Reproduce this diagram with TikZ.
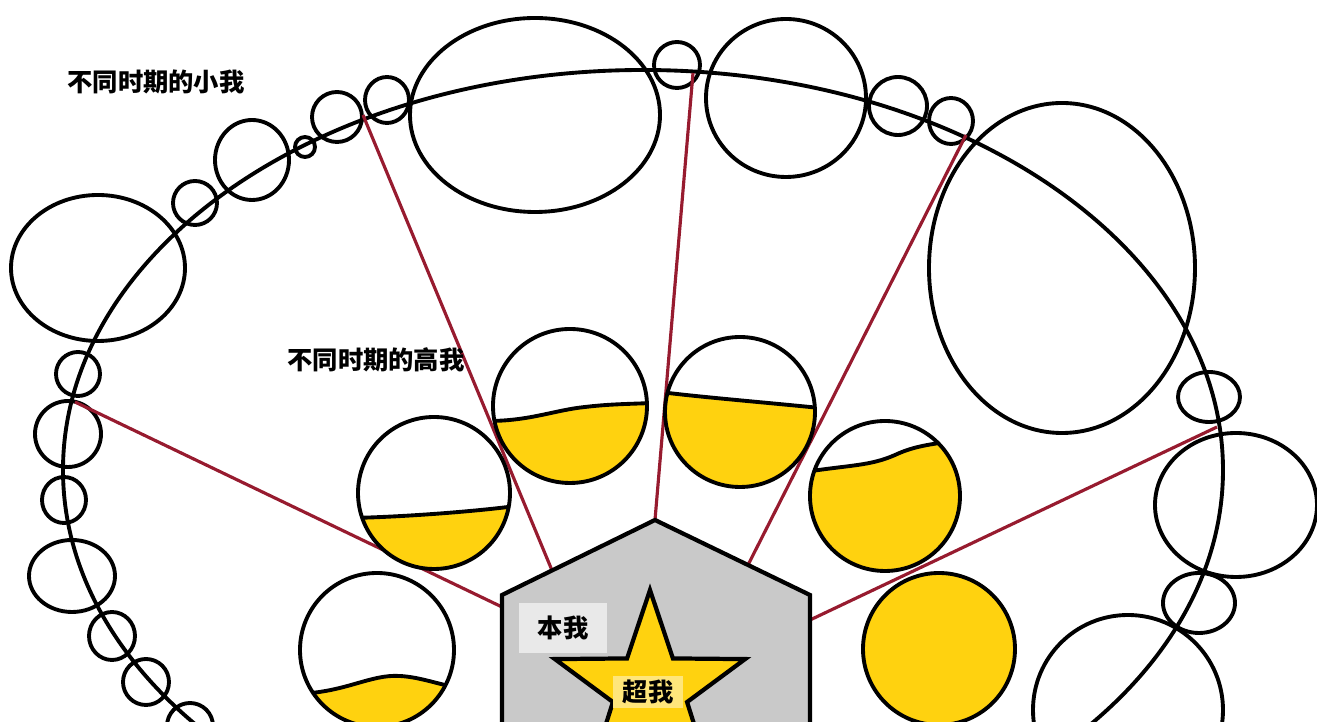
\documentclass[tikz,border=0pt]{standalone}
\usepackage{fontspec}
\newfontfamily\cjk{Noto Sans CJK SC}
\usetikzlibrary{calc}
\definecolor{goldfill}{HTML}{FFD20F}
\definecolor{linkred}{HTML}{971B2F}
\definecolor{housegray}{HTML}{C9C9C9}
\definecolor{tagwhite}{HTML}{E9E9E9}
\tikzset{
  ring/.style={draw=black, line width=1.1pt},
  link/.style={draw=linkred, line width=0.9pt},
  liquid/.style={fill=goldfill},
  surface/.style={draw=black, line width=1.1pt},
  house/.style={draw=black, line width=1.2pt, line join=miter},
  superstar/.style={draw=black, line width=1.2pt, fill=goldfill, line join=miter},
  tag/.style={font=\cjk\bfseries\fontsize{7.2pt}{8pt}\selectfont, inner sep=0pt}
}
\begin{document}
\begin{tikzpicture}[x=0.01cm, y=-0.01cm]
  \useasboundingbox (0,0) rectangle (1317,722);
  \clip (0,0) rectangle (1317,722);

  % outer path of the lives
  \draw[ring] (643,470) ellipse [x radius=580, y radius=400];

  % small selves along the path
  \foreach \cx/\cy/\rx/\ry in {387/100/22/23, 337/117/25/25, 305/147/10/10, 252/160/37/40,
      195/203/22/22, 98/268/87/73, 78/374/22/22, 68/434/33/33, 64/500/22/23, 72/576/43/36,
      112/636/23/24, 146/682/23/23, 190/726/23/23, 535/115/125/97, 677/65/23/23,
      786/98/80/79, 898/106/29/29, 951/121/22/23, 1062/268/133/165, 1209/397/31/25,
      1236/505/81/72, 1199/603/36/30, 1128/710/95/95} {
    \draw[ring] (\cx,\cy) ellipse [x radius=\rx, y radius=\ry];
  }

  % house corners
  \coordinate (hbl) at (502,740);
  \coordinate (hl) at (502,595);
  \coordinate (ht) at (655,520);
  \coordinate (hr) at (810,595);
  \coordinate (hbr) at (810,740);

  % ends of the links
  \coordinate (e1) at (75,402);
  \coordinate (e2) at (363,115);
  \coordinate (e3) at (693,73);
  \coordinate (e4) at (966,135);
  \coordinate (e5) at (1217,427);
  \coordinate (h1) at (502,607);
  \coordinate (h2) at ($(hl)!0.327!(ht)$);
  \coordinate (h4) at ($(ht)!0.6!(hr)$);
  \coordinate (h5) at (810,620);

  \draw[link] (e1) -- (h1);
  \draw[link] (e2) -- (h2);
  \draw[link] (e3) -- (ht);
  \draw[link] (e4) -- (h4);
  \draw[link] (e5) -- (h5);

  % higher selves
  \fill[white] (377,650) circle [radius=77];
  \begin{scope}
    \clip (377,650) circle [radius=77];
    \fill[liquid] (295,694) .. controls (345,693) and (370,674) .. (400,676) .. controls (420,677) and (440,685) .. (460,688) |- (295,740) -- cycle;
    \draw[surface] (295,694) .. controls (345,693) and (370,674) .. (400,676) .. controls (420,677) and (440,685) .. (460,688);
  \end{scope}
  \draw[ring] (377,650) circle [radius=77];

  \fill[white] (434,493) circle [radius=76];
  \begin{scope}
    \clip (434,493) circle [radius=76];
    \fill[liquid] (352,518) .. controls (400,517) and (470,512) .. (516,506) |- (352,580) -- cycle;
    \draw[surface] (352,518) .. controls (400,517) and (470,512) .. (516,506);
  \end{scope}
  \draw[ring] (434,493) circle [radius=76];

  \fill[white] (570,406) circle [radius=77];
  \begin{scope}
    \clip (570,406) circle [radius=77];
    \fill[liquid] (488,421) .. controls (530,421) and (555,410) .. (585,407) .. controls (610,404) and (630,404) .. (652,403) |- (488,490) -- cycle;
    \draw[surface] (488,421) .. controls (530,421) and (555,410) .. (585,407) .. controls (610,404) and (630,404) .. (652,403);
  \end{scope}
  \draw[ring] (570,406) circle [radius=77];

  \fill[white] (740,412) circle [radius=75];
  \begin{scope}
    \clip (740,412) circle [radius=75];
    \fill[liquid] (660,392) .. controls (700,397) and (760,402) .. (820,408) |- (660,495) -- cycle;
    \draw[surface] (660,392) .. controls (700,397) and (760,402) .. (820,408);
  \end{scope}
  \draw[ring] (740,412) circle [radius=75];

  \fill[white] (885,496) circle [radius=75];
  \begin{scope}
    \clip (885,496) circle [radius=75];
    \fill[liquid] (805,472) .. controls (850,465) and (870,466) .. (895,455) .. controls (910,448) and (925,444) .. (965,440) |- (805,580) -- cycle;
    \draw[surface] (805,472) .. controls (850,465) and (870,466) .. (895,455) .. controls (910,448) and (925,444) .. (965,440);
  \end{scope}
  \draw[ring] (885,496) circle [radius=75];

  \draw[ring, fill=goldfill] (939,649) circle [radius=76];

  % self and super self
  \fill[housegray] (hbl) -- (hl) -- (ht) -- (hr) -- (hbr) -- cycle;
  \draw[house] (hbl) -- (hl) -- (ht) -- (hr) -- (hbr);
  \draw[superstar, shift={(650,690)}] plot[samples at={0,...,9}] (\x*36+270:{ifthenelse(mod(\x,2)==0,100,39)}) -- cycle;

  % labels
  \node[tag] (xiaowo) at (156,82) {不同时期的小我};
  \node[tag] (gaowo) at (376,360) {不同时期的高我};
  \node[tag, fill=tagwhite, minimum width=0.87cm, minimum height=0.49cm] (benwo) at (563,628) {本我};
  \node[tag, fill=goldfill!55!white, minimum width=0.70cm, minimum height=0.31cm] (chaowo) at (648,692) {超我};
\end{tikzpicture}
\end{document}
